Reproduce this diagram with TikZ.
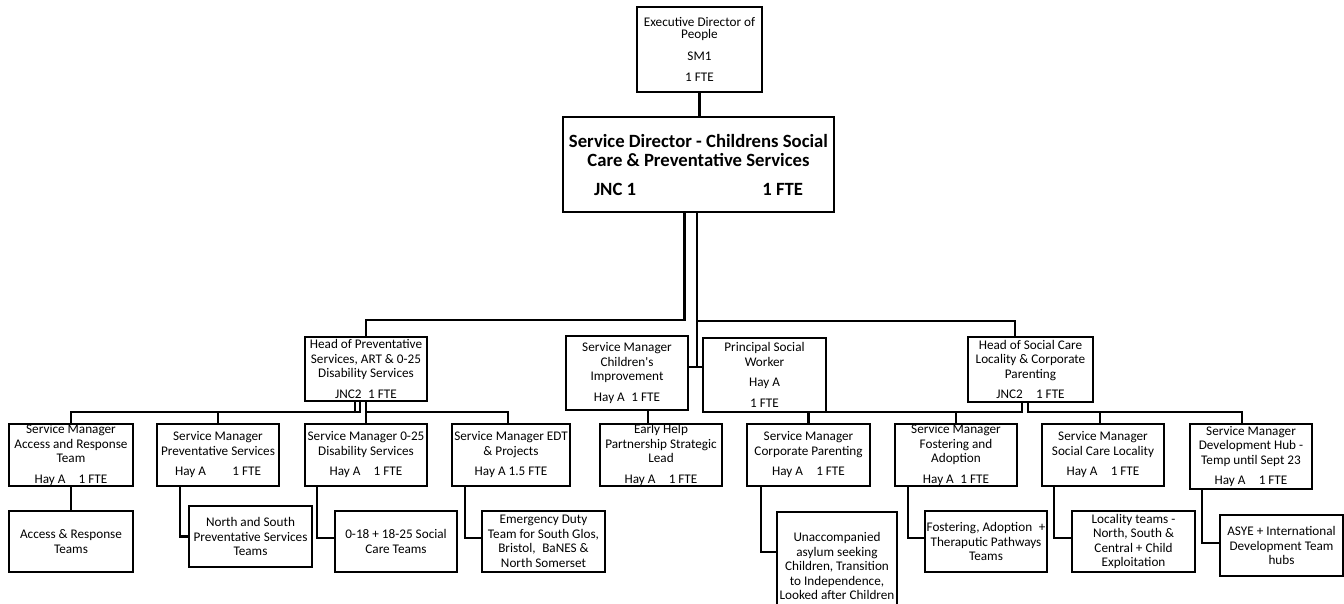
\documentclass[tikz,border=0pt]{standalone}
\usepackage{fontspec}
\setmainfont{Carlito}
\newfontfamily\calib{Carlito}
\begin{document}
\begin{tikzpicture}[x=1pt,y=-1pt,
  box/.style={draw,line width=2.3pt,fill=white,inner sep=0pt,align=center,
    font=\calib\fontsize{13.2}{14.5}\selectfont},
  conn/.style={draw,line width=2.3pt}]
\useasboundingbox (0,0) rectangle (1344,603);
% level 0 / 1
\node[box,minimum width=125pt,minimum height=85pt,font=\calib\fontsize{13.2}{12.5}\selectfont] (exec) at (699.5,49.5)
  {Executive Director of\\People\\[9pt]SM1\\[9pt]1 FTE};
\node[box,minimum width=271pt,minimum height=95pt,font=\calib\fontsize{18.7}{19}\selectfont\bfseries] (sd) at (698.5,164.5)
  {Service Director - Childrens Social\\Care \& Preventative Services\\[10pt]\makebox[209pt]{JNC 1\hfill 1 FTE}};
% level 2
\node[box,minimum width=122pt,minimum height=64pt] (hp) at (366,369)
  {Head of Preventative\\Services, ART \& 0-25\\Disability Services\\[6pt]JNC2\enspace 1 FTE};
\node[box,minimum width=122pt,minimum height=74pt] (ci) at (627,373)
  {Service Manager\\Children's\\Improvement\\[6pt]Hay A\enspace 1 FTE};
\node[box,minimum width=123pt,minimum height=74pt] (psw) at (764.5,375)
  {Principal Social\\Worker\\[6pt]Hay A\\[6pt]1 FTE};
\node[box,minimum width=125pt,minimum height=65pt] (hsc) at (1030.5,369.5)
  {Head of Social Care\\Locality \& Corporate\\Parenting\\[6pt]JNC2\quad 1 FTE};
% connectors level 1-2
\draw[conn] (exec.south) -- (exec.south |- sd.north);
\draw[conn] ([xshift=-14pt]sd.south) -- ++(0,107) -| (hp.north);
\draw[conn] ([xshift=-1.5pt]sd.south) -- ++(0,108) -| ([xshift=-15.5pt]hsc.north);
\draw[conn] ([xshift=-1.5pt]sd.south) |- ([yshift=6pt]ci.east);
\draw[conn] ([xshift=-1.5pt]sd.south) |- ([yshift=8pt]psw.west);
% level 3
\node[box,minimum width=124pt,minimum height=62pt] (b1) at (71,455)
  {Service Manager\\Access and Response\\Team\\[6pt]Hay A\quad 1 FTE};
\node[box,minimum width=122pt,minimum height=62pt] (b2) at (218,455)
  {Service Manager\\Preventative Services\\[6pt]Hay A\qquad 1 FTE};
\node[box,minimum width=122pt,minimum height=62pt] (b3) at (366,455)
  {Service Manager 0-25\\Disability Services\\[6pt]Hay A\quad 1 FTE};
\node[box,minimum width=118pt,minimum height=62pt] (b4) at (511,455)
  {Service Manager EDT\\\& Projects\\[6pt]Hay A 1.5 FTE};
\node[box,minimum width=122pt,minimum height=62pt] (b5) at (661,455)
  {Early Help\\Partnership Strategic\\Lead\\[6pt]Hay A\quad 1 FTE};
\node[box,minimum width=123pt,minimum height=62pt] (b6) at (808.5,455)
  {Service Manager\\Corporate Parenting\\[6pt]Hay A\quad 1 FTE};
\node[box,minimum width=122pt,minimum height=62pt] (b7) at (956,455)
  {Service Manager\\Fostering and\\Adoption\\[6pt]Hay A\enspace 1 FTE};
\node[box,minimum width=122pt,minimum height=62pt] (b8) at (1103,455)
  {Service Manager\\Social Care Locality\\[6pt]Hay A\quad 1 FTE};
\node[box,minimum width=122pt,minimum height=65pt] (b9) at (1251,456.5)
  {Service Manager\\Development Hub -\\Temp until Sept 23\\[6pt]Hay A\quad 1 FTE};
% connectors level 2-3
\draw[conn] ([xshift=-11pt]hp.south) -- ++(0,10) -| (b1.north);
\draw[conn] ([xshift=-6pt]hp.south) -- ++(0,10) -| (b2.north);
\draw[conn] (hp.south) -- (b3.north);
\draw[conn] (hp.south) -- ++(0,10) -| ([xshift=-3pt]b4.north);
\draw[conn] ([xshift=21pt]ci.south) -- ([xshift=-13pt]b5.north);
\draw[conn] ([xshift=-8.5pt]hsc.south) -- ++(0,9) -| (b6.north);
\draw[conn] ([xshift=-8.5pt]hsc.south) -- ++(0,9) -| (b7.north);
\draw[conn] ([xshift=-2.5pt]hsc.south) -- ++(0,9) -| ([xshift=-3pt]b8.north);
\draw[conn] ([xshift=-2.5pt]hsc.south) -- ++(0,9) -| ([xshift=-9pt]b9.north);
% level 4
\node[box,minimum width=124pt,minimum height=61pt] (c1) at (71,541.5)
  {Access \& Response\\Teams};
\node[box,minimum width=123pt,minimum height=61pt] (c2) at (250.5,536.5)
  {North and South\\Preventative Services\\Teams};
\node[box,minimum width=122pt,minimum height=61pt] (c3) at (396,541.5)
  {0-18 + 18-25 Social\\Care Teams};
\node[box,minimum width=123pt,minimum height=61pt] (c4) at (543.5,541.5)
  {Emergency Duty\\Team for South Glos,\\Bristol,\enspace BaNES \&\\North Somerset};
\node[box,minimum width=120pt,minimum height=108pt] (c6) at (837,566)
  {Unaccompanied\\asylum seeking\\Children, Transition\\to Independence,\\Looked after Children};
\node[box,minimum width=122pt,minimum height=61pt] (c7) at (986,541.5)
  {Fostering, Adoption\enspace +\\Theraputic Pathways\\Teams};
\node[box,minimum width=123pt,minimum height=61pt] (c8) at (1133.5,541.5)
  {Locality teams -\\North, South \&\\Central + Child\\Exploitation};
\node[box,minimum width=123pt,minimum height=61pt] (c9) at (1281.5,545.5)
  {ASYE + International\\Development Team\\hubs};
% connectors level 3-4
\draw[conn] (b1.south) -- (c1.north);
\draw[conn] ([xshift=-38pt]b2.south) |- (c2.west);
\draw[conn] ([xshift=-49pt]b3.south) |- ([yshift=3.5pt]c3.west);
\draw[conn] ([xshift=-46pt]b4.south) |- ([yshift=3.5pt]c4.west);
\draw[conn] ([xshift=-47.5pt]b6.south) |- ([yshift=14pt]c6.west);
\draw[conn] ([xshift=-48pt]b7.south) |- ([yshift=3.5pt]c7.west);
\draw[conn] ([xshift=-49pt]b8.south) |- ([yshift=3.5pt]c8.west);
\draw[conn] ([xshift=-49pt]b9.south) |- ([yshift=2.5pt]c9.west);
\end{tikzpicture}
\end{document}
